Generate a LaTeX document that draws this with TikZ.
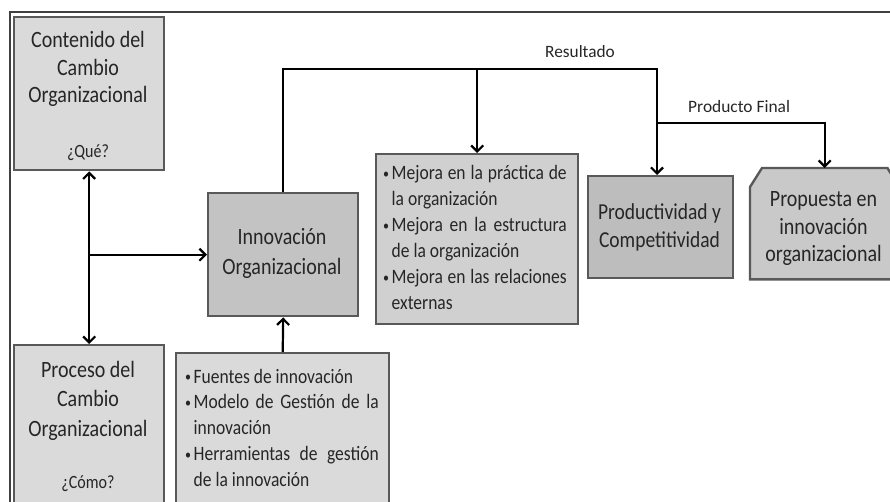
\documentclass[tikz,border=0pt]{standalone}
\usepackage{fontspec}
\setmainfont{Carlito}
\usepackage{graphicx}
\usetikzlibrary{arrows.meta,backgrounds}
\definecolor{txt}{HTML}{262626}
\definecolor{bord}{HTML}{595959}
\definecolor{fillA}{HTML}{DADADA}
\definecolor{fillB}{HTML}{C3C3C3}
\definecolor{fillC}{HTML}{D0D0D0}
\definecolor{fillD}{HTML}{BDBDBD}
\definecolor{fillE}{HTML}{C9C9C9}
\definecolor{framec}{HTML}{404040}
\newcommand\ys[1]{\scalebox{1}[1.17]{#1}}
\newcommand\fs[2]{\fontsize{#1}{#2}\selectfont}
\newcommand\bul{\makebox[8.5pt][l]{\raisebox{1.2pt}{\fs{12}{12}•}}}
\setlength\tabcolsep{0pt}
\begin{document}
\begin{tikzpicture}[x=1pt,y=-1pt,
  boxbase/.style={draw=bord, line width=2.4pt, inner sep=0pt, anchor=north west},
  txtn/.style={text=txt, inner sep=0pt, anchor=base},
  txtw/.style={text=txt, inner sep=0pt, anchor=base west},
  arr/.style={line width=2.2pt, -{Straight Barb[length=6pt,width=12pt]}},
  arrb/.style={line width=2.2pt, {Straight Barb[length=6pt,width=12pt]}-{Straight Barb[length=6pt,width=12pt]}}]
\useasboundingbox (0,0) rectangle (890,502);
% frame
\draw[framec, line width=1.5pt] (10,505) -- (10,12) -- (892,12);

% boxes
\node[boxbase, fill=fillA, minimum width=150pt, minimum height=153pt] (cont) at (13,16) {};
\node[boxbase, fill=fillA, minimum width=150pt, minimum height=170pt] (proc) at (13,344) {};
\node[boxbase, fill=fillB, minimum width=150pt, minimum height=123pt] (innov) at (207,192) {};
\node[boxbase, fill=fillC, minimum width=202pt, minimum height=170pt] (mej) at (375,153) {};
\node[boxbase, fill=fillA, minimum width=213pt, minimum height=160pt] (bul) at (175,352) {};
\node[boxbase, fill=fillD, minimum width=145pt, minimum height=102pt] (prod) at (587,175) {};
\node[boxbase, draw=none, minimum width=147pt, minimum height=109pt] (prop) at (750,168) {};
\draw[draw=bord, line width=2.4pt, fill=fillE, line join=miter]
  ([yshift=-19pt]prop.north west) -- ([xshift=12pt]prop.north west)
  -- ([xshift=-12pt]prop.north east) -- ([yshift=-19pt]prop.north east)
  -- (prop.south east) -- (prop.south west) -- cycle;

% texts
\node[txtn] (contT) at (88,48) {\ys{\fs{20}{23.5}\begin{tabular}[t]{c}Contenido del\\Cambio\\Organizacional\\[23.5pt]{\fs{16}{19}¿Qué?}\end{tabular}}};
\node[txtn] (procT) at (88,377) {\ys{\fs{20}{25.4}\begin{tabular}[t]{c}Proceso del\\Cambio\\Organizacional\\[19pt]{\fs{16}{19}¿Cómo?}\end{tabular}}};
\node[txtn] (innovT) at (282,245) {\ys{\fs{20}{25.6}\begin{tabular}[t]{c}Innovación\\Organizacional\end{tabular}}};
\node[txtw] (mejT) at (383,180) {\ys{\fs{17.5}{22.2}\begin{tabular}[t]{@{}l@{}l@{}}%
\bul&\makebox[175pt][s]{Mejora en la práctica de}\\
&la organización\\
\bul&\makebox[175pt][s]{Mejora en la estructura}\\
&de la organización\\
\bul&\makebox[175pt][s]{Mejora en las relaciones}\\
&externas\end{tabular}}};
\node[txtw] (bulT) at (185,383) {\ys{\fs{17.5}{22.2}\begin{tabular}[t]{@{}l@{}l@{}}%
\bul&Fuentes de innovación\\
\bul&\makebox[185pt][s]{Modelo de Gestión de la}\\
&innovación\\
\bul&\makebox[185pt][s]{Herramientas de gestión}\\
&de la innovación\end{tabular}}};
\node[txtn] (prodT) at (659.5,220) {\ys{\fs{19.5}{23.9}\begin{tabular}[t]{c}Productividad y\\Competitividad\end{tabular}}};
\node[txtn] (propT) at (823.5,207) {\ys{\fs{20}{23.5}\begin{tabular}[t]{c}Propuesta en\\innovación\\organizacional\end{tabular}}};
\node[txtw] (resT) at (545,58) {\fs{17.3}{20}Resultado};
\node[txtw] (pfT) at (688,113) {\fs{17.4}{20}Producto Final};

% connectors
\coordinate (rc) at (657,69);
\coordinate (pf) at (657,123);
\draw[arrb] (cont.south) -- (proc.north);
\draw[arr] (cont.south |- innov.west) -- (innov.west);
\draw[arr] (innov.north) |- (rc) -- (rc |- prod.north);
\draw[arr] (mej.north |- rc) -- (mej.north);
\draw[arr] (pf) -| (prop.north);
\draw[arr] (bul.north) -- (innov.south);
\end{tikzpicture}
\end{document}
